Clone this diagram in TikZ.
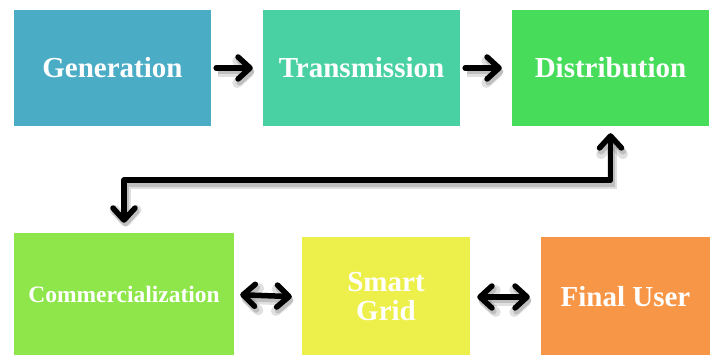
\documentclass[tikz,border=0pt]{standalone}
\usepackage{fontspec}
\setmainfont{Liberation Serif}
\usetikzlibrary{arrows.meta}

\definecolor{cgen}{HTML}{4BACC6}
\definecolor{ctrans}{HTML}{4AD1A3}
\definecolor{cdist}{HTML}{47DD5B}
\definecolor{ccomm}{HTML}{8EE64A}
\definecolor{csmart}{HTML}{EDEF4A}
\definecolor{cfinal}{HTML}{F79646}

\tikzset{
  stage/.style={rectangle, inner sep=0pt, align=center, text=white,
    font=\fontsize{29}{30}\selectfont\bfseries},
  barb/.tip={Straight Barb[length=12pt, width=22pt, round]},
  link/.style={line width=5.5pt, line cap=round, line join=round,
    preaction={draw=black, opacity=0.12, line width=10pt,
      transform canvas={shift={(1.5pt,-4pt)}}},
    preaction={draw=black, opacity=0.15, line width=6pt,
      transform canvas={shift={(1.5pt,-3.5pt)}}}},
}

\begin{document}
\begin{tikzpicture}[x=1pt, y=-1pt]
  \useasboundingbox (0,0) rectangle (715,355);

  % upper row
  \node[stage, fill=cgen,   minimum width=197pt, minimum height=116pt] (gen)   at (112.5,68) {Generation};
  \node[stage, fill=ctrans, minimum width=197pt, minimum height=116pt] (trans) at (361.5,68) {Transmission};
  \node[stage, fill=cdist,  minimum width=197pt, minimum height=116pt] (dist)  at (610.5,68) {Distribution};

  % lower row
  \node[stage, fill=ccomm, minimum width=220pt, minimum height=123pt,
        font=\fontsize{23.5}{25}\selectfont\bfseries] (comm) at (124,294.5) {Commercialization};
  \node[stage, fill=csmart, minimum width=168pt, minimum height=120pt] (smart) at (386,297) {Smart\\[-1pt]Grid};
  \node[stage, fill=cfinal, minimum width=169pt, minimum height=120pt] (final) at (625.5,297) {Final User};

  % connectors
  \draw[link, -barb, shorten <=5pt, shorten >=10pt] (gen.east) -- (trans.west);
  \draw[link, -barb, shorten <=5pt, shorten >=10pt] (trans.east) -- (dist.west);
  \draw[link, barb-barb, shorten <=7pt, shorten >=10pt]
    (dist.south) -- ++(0,54) -| (comm.north);
  \draw[link, barb-barb, shorten <=6pt, shorten >=10pt] (comm.east) -- (smart.west);
  \draw[link, barb-barb, shorten <=7pt, shorten >=11pt] (smart.east) -- (final.west);
\end{tikzpicture}
\end{document}
